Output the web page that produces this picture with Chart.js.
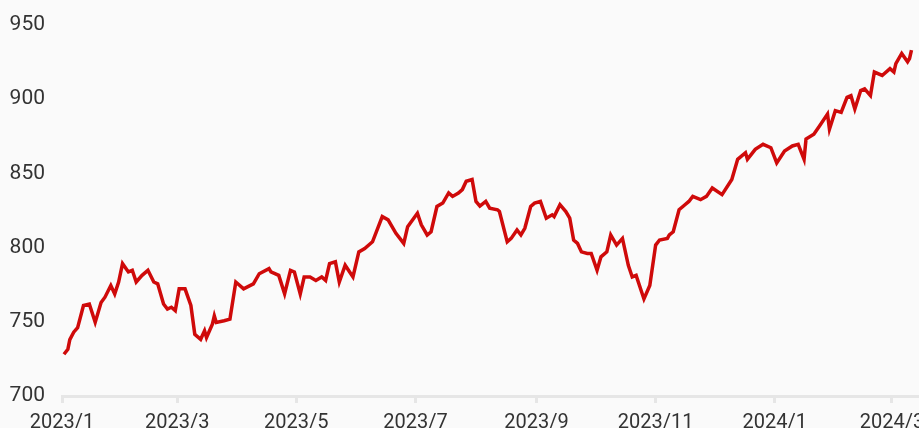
<!DOCTYPE html>
<html lang="zh">
<head>
    <meta charset="UTF-8">
    <title>走势图</title>
    <style>
        html, body {
            margin: 0;
            padding: 0;
            background: #fafafa;
            overflow: hidden;
        }
        #chart {
            display: block;
        }
    </style>
</head>
<body>
    <canvas id="chart" width="940" height="428"></canvas>

    <script src="https://cdn.jsdelivr.net/npm/chart.js"></script>
    <script>
        // 日期
        const dates = [
            '2023-01-02', '2023-01-04', '2023-01-05', '2023-01-07', '2023-01-09', '2023-01-12', '2023-01-15', '2023-01-18',
            '2023-01-21', '2023-01-23', '2023-01-26', '2023-01-28', '2023-01-30', '2023-02-01', '2023-02-04', '2023-02-06',
            '2023-02-08', '2023-02-11', '2023-02-14', '2023-02-17', '2023-02-19', '2023-02-22', '2023-02-24', '2023-02-26',
            '2023-02-28', '2023-03-02', '2023-03-05', '2023-03-08', '2023-03-10', '2023-03-13', '2023-03-15', '2023-03-16',
            '2023-03-19', '2023-03-20', '2023-03-21', '2023-03-25', '2023-03-28', '2023-03-31', '2023-04-04', '2023-04-09',
            '2023-04-12', '2023-04-17', '2023-04-18', '2023-04-22', '2023-04-25', '2023-04-28', '2023-04-30', '2023-05-03',
            '2023-05-05', '2023-05-08', '2023-05-11', '2023-05-14', '2023-05-16', '2023-05-18', '2023-05-21', '2023-05-23',
            '2023-05-26', '2023-05-30', '2023-06-02', '2023-06-05', '2023-06-09', '2023-06-14', '2023-06-17', '2023-06-21',
            '2023-06-25', '2023-06-27', '2023-07-02', '2023-07-04', '2023-07-07', '2023-07-09', '2023-07-12', '2023-07-15',
            '2023-07-18', '2023-07-20', '2023-07-23', '2023-07-25', '2023-07-27', '2023-07-30', '2023-08-01', '2023-08-03',
            '2023-08-06', '2023-08-08', '2023-08-12', '2023-08-13', '2023-08-17', '2023-08-19', '2023-08-22', '2023-08-24',
            '2023-08-26', '2023-08-29', '2023-08-31', '2023-09-03', '2023-09-06', '2023-09-09', '2023-09-10', '2023-09-13',
            '2023-09-16', '2023-09-18', '2023-09-20', '2023-09-22', '2023-09-24', '2023-09-27', '2023-09-29', '2023-10-02',
            '2023-10-04', '2023-10-07', '2023-10-09', '2023-10-12', '2023-10-15', '2023-10-18', '2023-10-20', '2023-10-22',
            '2023-10-26', '2023-10-29', '2023-11-01', '2023-11-03', '2023-11-07', '2023-11-08', '2023-11-10', '2023-11-13',
            '2023-11-16', '2023-11-18', '2023-11-20', '2023-11-24', '2023-11-27', '2023-11-30', '2023-12-05', '2023-12-10',
            '2023-12-13', '2023-12-17', '2023-12-18', '2023-12-22', '2023-12-26', '2023-12-30', '2024-01-02', '2024-01-06',
            '2024-01-10', '2024-01-13', '2024-01-16', '2024-01-17', '2024-01-21', '2024-01-24', '2024-01-28', '2024-01-29',
            '2024-02-01', '2024-02-04', '2024-02-07', '2024-02-09', '2024-02-11', '2024-02-14', '2024-02-16', '2024-02-19',
            '2024-02-21', '2024-02-25', '2024-02-29', '2024-03-02', '2024-03-03', '2024-03-06', '2024-03-09', '2024-03-10',
            '2024-03-11'
        ];

        // 数值
        const values = [
            728.1, 731.5, 738.0, 743.0, 746.0, 761.0, 762.0, 749.6,
            763.0, 766.6, 774.5, 768.8, 776.8, 789.2, 783.6, 784.7,
            776.8, 781.3, 784.7, 776.8, 775.6, 762.0, 758.6, 759.8,
            757.5, 772.2, 772.2, 761.0, 741.6, 738.2, 744.0, 739.4,
            748.4, 754.0, 749.6, 750.7, 751.8, 776.8, 772.2, 775.6,
            782.4, 785.8, 783.6, 781.3, 768.8, 784.7, 783.6, 768.8,
            780.2, 780.2, 777.9, 780.2, 777.9, 789.2, 790.4, 776.8,
            788.1, 780.2, 797.1, 799.4, 803.9, 820.9, 818.7, 809.6,
            802.8, 814.1, 823.2, 815.3, 808.5, 810.7, 827.7, 830.0,
            836.8, 834.5, 836.8, 839.1, 844.7, 845.9, 831.1, 828.0,
            831.1, 826.6, 825.5, 824.3, 803.9, 806.2, 811.9, 808.5,
            813.0, 827.7, 830.0, 831.1, 819.8, 822.1, 820.9, 828.9,
            824.3, 819.8, 805.1, 802.8, 797.1, 796.0, 796.0, 784.7,
            793.8, 797.1, 808.5, 801.7, 806.2, 788.1, 780.2, 781.3,
            765.4, 774.5, 801.7, 805.1, 806.2, 808.5, 810.7, 825.5,
            828.9, 831.1, 834.5, 832.3, 834.5, 840.2, 835.7, 845.9,
            859.5, 863.9, 859.5, 866.2, 869.6, 867.3, 857.1, 865.1,
            868.5, 869.6, 859.5, 873.1, 876.4, 882.1, 890.0, 879.8,
            892.3, 891.1, 901.3, 902.4, 893.4, 905.8, 907.0, 902.4,
            918.3, 916.0, 920.6, 918.3, 924.0, 930.8, 925.2, 927.4,
            933.1
        ];

        // 横轴刻度
        const tickDates = ['2023-01-01', '2023-03-01', '2023-05-01', '2023-07-01', '2023-09-01', '2023-11-01', '2024-01-01', '2024-03-01'];
        const tickLabels = ['2023/1', '2023/3', '2023/5', '2023/7', '2023/9', '2023/11', '2024/1', '2024/3'];
        const axisEnd = '2024-03-21';

        // 纵轴刻度
        const yTicks = [700, 750, 800, 850, 900, 950];

        const DAY = 86400000;
        const origin = Date.parse(tickDates[0]);
        const toDay = (s) => (Date.parse(s) - origin) / DAY;
        const tickDays = tickDates.map(toDay);

        const points = dates.map((d, i) => ({ x: toDay(d), y: values[i] }));

        const axisGray = '#e6e6e6';

        const ctx = document.getElementById('chart').getContext('2d');
        new Chart(ctx, {
            type: 'line',
            data: {
                datasets: [{
                    data: points,
                    borderColor: '#cf0a0a',
                    borderWidth: 3.5,
                    pointRadius: 0,
                    tension: 0,
                    fill: false
                }]
            },
            options: {
                responsive: false,
                animation: false,
                layout: {
                    padding: { top: 25, left: 8, right: 9, bottom: 0 }
                },
                plugins: {
                    legend: { display: false },
                    tooltip: { enabled: false }
                },
                scales: {
                    x: {
                        type: 'linear',
                        min: 0,
                        max: toDay(axisEnd),
                        afterBuildTicks: (axis) => {
                            axis.ticks = tickDays.map(v => ({ value: v }));
                        },
                        afterFit: (axis) => {
                            axis.height = 32;
                        },
                        ticks: {
                            autoSkip: false,
                            maxRotation: 0,
                            padding: 10,
                            color: '#333',
                            font: { family: 'Roboto', size: 20, lineHeight: 1 },
                            callback: (value) => {
                                const i = tickDays.indexOf(value);
                                return i >= 0 ? tickLabels[i] : '';
                            }
                        },
                        grid: {
                            display: true,
                            drawOnChartArea: false,
                            drawTicks: true,
                            tickLength: 7,
                            color: axisGray,
                            lineWidth: 3
                        },
                        border: { display: true, color: axisGray, width: 3 }
                    },
                    y: {
                        min: yTicks[0],
                        max: yTicks[yTicks.length - 1],
                        afterBuildTicks: (axis) => {
                            axis.ticks = yTicks.map(v => ({ value: v }));
                        },
                        afterFit: (axis) => {
                            axis.width = 54;
                            axis.paddingTop = 0;
                            axis.paddingBottom = 0;
                        },
                        ticks: {
                            padding: 17,
                            color: '#333',
                            font: { family: 'Roboto', size: 21 }
                        },
                        grid: { display: false, drawTicks: false },
                        border: { display: false }
                    }
                }
            }
        });
    </script>
</body>
</html>
